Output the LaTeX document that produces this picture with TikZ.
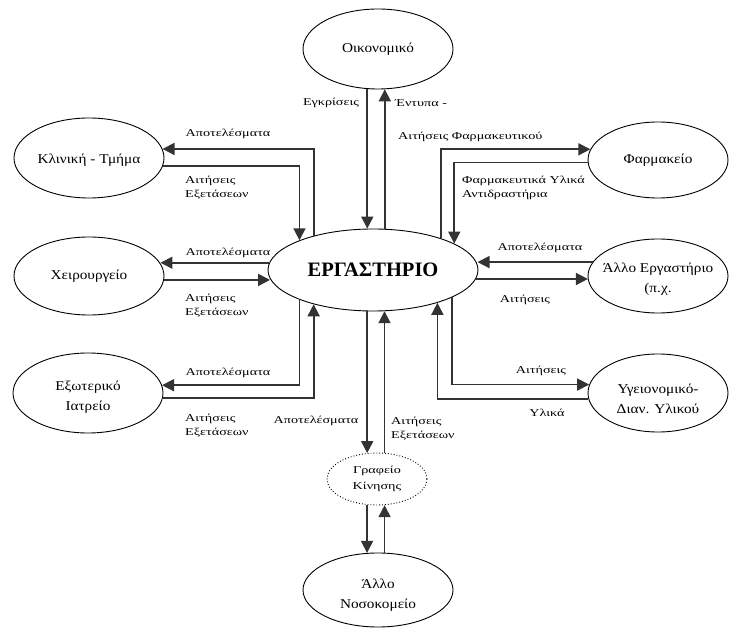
\documentclass[tikz,border=0pt]{standalone}
\usepackage{fontspec}
\setmainfont{Liberation Serif}
\newfontfamily\lblfont[FakeStretch=1.35]{Liberation Serif}
\newfontfamily\ovfont[FakeStretch=1.13]{Liberation Serif}
\usetikzlibrary{shapes.geometric,arrows.meta}
\begin{document}
\begin{tikzpicture}[x=1pt,y=-1pt,
  oval/.style={ellipse, draw, line width=0.9pt, inner sep=0pt},
  conn/.style={line width=1.7pt, draw=black!80, -{Triangle[length=12pt,width=12pt]}},
  lbl/.style={font=\lblfont\fontsize{10.5}{14}\selectfont, inner sep=0pt},
  ovtxt/.style={font=\ovfont\fontsize{13.5}{20}\selectfont, align=center, inner sep=0pt},
  smalltxt/.style={font=\lblfont\fontsize{10.5}{16}\selectfont, align=center, inner sep=0pt}]
\useasboundingbox (0,0) rectangle (729,628);

% ellipses
\node[oval, minimum width=210pt, minimum height=82pt] (lab) at (373,270) {\fontsize{20.5}{24}\selectfont\bfseries ΕΡΓΑΣΤΗΡΙΟ};
\node[oval, minimum width=150pt, minimum height=80pt, label={[ovtxt]center:Οικονομικό}] (ok) at (378,49) {};
\node[oval, minimum width=150pt, minimum height=80pt, label={[ovtxt, yshift=-2pt]center:Κλινική - Τμήμα}] (kl) at (89,158) {};
\node[oval, minimum width=150pt, minimum height=78pt, label={[ovtxt]center:Χειρουργείο}] (ch) at (89,276) {};
\node[oval, minimum width=150pt, minimum height=80pt, label={[ovtxt, yshift=-4pt]center:Εξωτερικό\\Ιατρείο}] (ex) at (88,393) {};
\node[oval, minimum width=140pt, minimum height=76pt, label={[ovtxt]center:Φαρμακείο}] (fa) at (658,160) {};
\node[oval, minimum width=140pt, minimum height=74pt, label={[ovtxt, yshift=-3pt]center:Άλλο Εργαστήριο\\(π.χ.}] (ae) at (658,276) {};
\node[oval, minimum width=140pt, minimum height=78pt, label={[ovtxt, yshift=-6pt]center:Υγειονομικό-\\Διαν. Υλικού}] (yg) at (658,393) {};
\node[ellipse, draw, dotted, line width=0.9pt, inner sep=0pt, minimum width=100pt, minimum height=52pt, label={[smalltxt]center:Γραφείο\\Κίνησης}] (gk) at (377,479) {};
\node[oval, minimum width=150pt, minimum height=74pt, label={[ovtxt, yshift=-5pt]center:Άλλο\\Νοσοκομείο}] (an) at (378,590) {};

% top: Οικονομικό
\draw[conn] (ok.-105.5) -- (ok.-105.5 |- lab.98.3);
\draw[conn] (lab.74.9) -- (lab.74.9 |- ok.-81.4);

% Κλινική - Τμήμα
\draw[conn] (lab.150.7) |- (kl.7);
\draw[conn] (kl.-6.2) -| (lab.158);

% Χειρουργείο
\draw[conn] (lab.176.1) -- (lab.176.1 -| ch.10.4);
\draw[conn] (ch.-3.1) -- (ch.-3.1 -| lab.185.6);

% Εξωτερικό Ιατρείο
\draw[conn] (lab.-158) |- (ex.6.2);
\draw[conn] (ex.-4.6) -| (lab.-150.7);

% Φαρμακείο
\draw[conn] (lab.25.2) |- (fa.171.6);
\draw[conn] (fa.182.4) -| (lab.18.4);

% Άλλο Εργαστήριο
\draw[conn] (ae.168.8) -- (ae.168.8 -| lab.3.9);
\draw[conn] (lab.-5.6) -- (lab.-5.6 -| ae.183.3);

% Υγειονομικό
\draw[conn] (lab.-19.4) |- (yg.173.3);
\draw[conn] (yg.185.8) -| (lab.-27.5);

% Γραφείο Κίνησης
\draw[conn] (lab.-98.3) -- (lab.-98.3 |- gk.111.4);
\draw[conn] (gk.74.8) -- (gk.74.8 |- lab.-74.9);

% Άλλο Νοσοκομείο
\draw[conn] (gk.-111.4) -- (gk.-111.4 |- an.106.7);
\draw[conn] (an.80.6) -- (an.80.6 |- gk.-74.8);

% labels
\node[lbl] (t1) at (228,134) {Αποτελέσματα};
\node[lbl, anchor=west, align=left] (t2) at (185,188) {Αιτήσεις\\Εξετάσεων};
\node[lbl] (t3) at (228,253) {Αποτελέσματα};
\node[lbl, anchor=west, align=left] (t4) at (185,306) {Αιτήσεις\\Εξετάσεων};
\node[lbl] (t5) at (228,373) {Αποτελέσματα};
\node[lbl, anchor=west, align=left] (t6) at (185,426) {Αιτήσεις\\Εξετάσεων};
\node[lbl] (t7) at (316,421) {Αποτελέσματα};
\node[lbl, anchor=west, align=left] (t8) at (391,429) {Αιτήσεις\\Εξετάσεων};
\node[lbl] (t9) at (331,103) {Εγκρίσεις};
\node[lbl, anchor=west] (t10) at (395,103) {Έντυπα -};
\node[lbl, anchor=west] (t11) at (398,137) {Αιτήσεις Φαρμακευτικού};
\node[lbl, anchor=west, align=left] (t12) at (462,188) {Φαρμακευτικά Υλικά\\Αντιδραστήρια};
\node[lbl] (t13) at (540,248) {Αποτελέσματα};
\node[lbl] (t14) at (525,300) {Αιτήσεις};
\node[lbl] (t15) at (541,371) {Αιτήσεις};
\node[lbl] (t16) at (547,413) {Υλικά};
\end{tikzpicture}
\end{document}
